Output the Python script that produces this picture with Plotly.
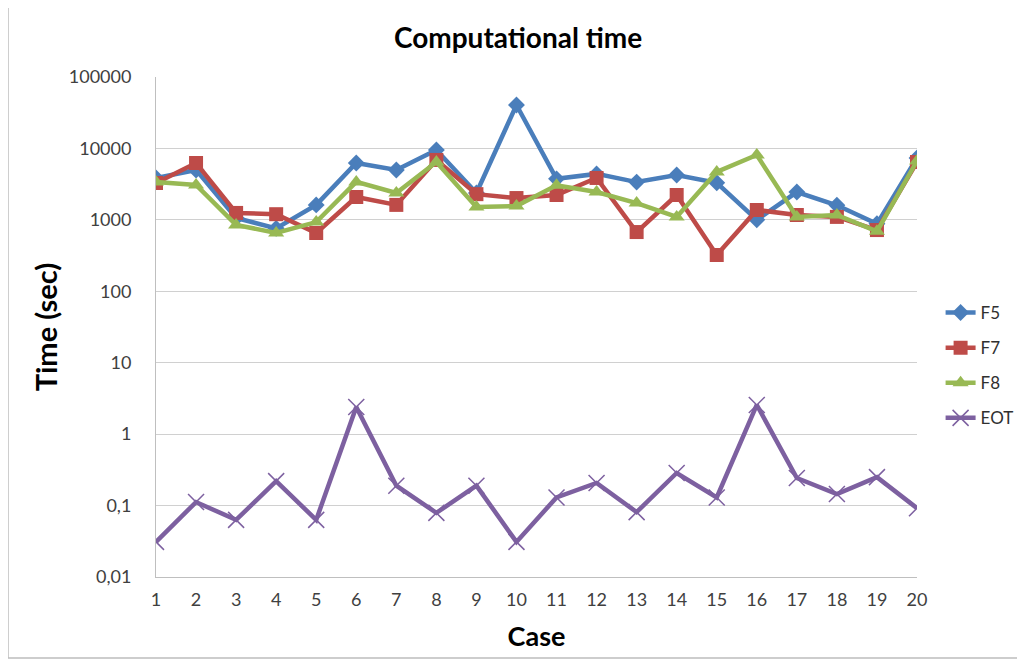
import plotly.graph_objects as go

cases = list(range(1, 21))
f5 = [3850, 5000, 1060, 760, 1620, 6250, 5000, 9500, 2380, 40500,
      3750, 4400, 3380, 4250, 3300, 1000, 2450, 1600, 880, 7350]
f7 = [3280, 6250, 1250, 1200, 655, 2090, 1620, 6900, 2290, 2020,
      2230, 3860, 675, 2230, 322, 1375, 1170, 1100, 720, 6450]
f8 = [3400, 3080, 850, 655, 930, 3400, 2380, 6450, 1510, 1560,
      3050, 2450, 1720, 1100, 4680, 8100, 1100, 1170, 690, 6670]
eot = [0.031, 0.112, 0.063, 0.22, 0.063, 2.4, 0.19, 0.079, 0.19, 0.031,
       0.13, 0.207, 0.081, 0.286, 0.13, 2.56, 0.243, 0.145, 0.25, 0.092]
series_names = ["F5", "F7", "F8", "EOT"]
y_tickvals = [0.01, 0.1, 1, 10, 100, 1000, 10000, 100000]
y_ticktext = ["0,01", "0,1", "1", "10", "100", "1000", "10000", "100000"]

colors = ["#4A7EBB", "#BE4B48", "#98B954", "#7D60A0"]
symbols = ["diamond", "square", "triangle-up", "x-thin"]
sizes = [13, 14, 14, 16]

fig = go.Figure()
for name, vals, c, s, sz in zip(series_names, [f5, f7, f8, eot], colors, symbols, sizes):
    marker = dict(symbol=s, size=sz, color=c)
    if s == "x-thin":
        marker["line"] = dict(color=c, width=1.5)
    fig.add_trace(go.Scatter(
        x=cases, y=vals, name=name, mode="lines+markers",
        line=dict(color=c, width=4.5), marker=marker, legendgroup=name,
    ))

font_family = "Lato, 'Open Sans', sans-serif"
fig.update_layout(
    width=1009, height=651,
    margin=dict(l=148, r=100, t=69, b=82, autoexpand=False),
    paper_bgcolor="white", plot_bgcolor="white",
    font=dict(family=font_family, color="#404040", size=18),
    title=dict(text="<b>Computational time</b>", x=0.5055, xanchor="center",
               y=0.954, yanchor="middle",
               font=dict(size=28, color="black", family=font_family)),
    legend=dict(x=1.031, y=0.564, xanchor="left", yanchor="top",
                font=dict(size=17, color="#303030"), tracegroupgap=10,
                itemwidth=30, bgcolor="rgba(0,0,0,0)"),
    showlegend=True,
)
fig.update_xaxes(
    range=[1, 20], tickvals=cases, ticktext=[str(c) for c in cases],
    showgrid=False, zeroline=False, showline=True, linecolor="#bfbfbf",
    linewidth=1, ticks="", tickfont=dict(size=18, color="#404040"),
    ticklabelstandoff=6, automargin=False,
    title=dict(text="<b>Case</b>", font=dict(size=27, color="black"), standoff=18),
)
fig.update_yaxes(
    type="log", range=[-2, 5], tickvals=y_tickvals, ticktext=y_ticktext,
    showgrid=True, gridcolor="#d0d0d0", gridwidth=1, zeroline=False,
    showline=True, linecolor="#bfbfbf", linewidth=1, ticks="",
    tickfont=dict(size=18, color="#404040"), ticklabelstandoff=20,
    automargin=False,
    title=dict(text="<b>Time (sec)</b>", font=dict(size=29, color="black"), standoff=2),
)
fig.add_shape(type="rect", xref="paper", yref="paper",
              x0=-0.1945, x1=1.2, y0=-0.162, y1=1.14,
              line=dict(color="#bdbdbd", width=1.5), layer="below")
fig.write_html("out.html")
